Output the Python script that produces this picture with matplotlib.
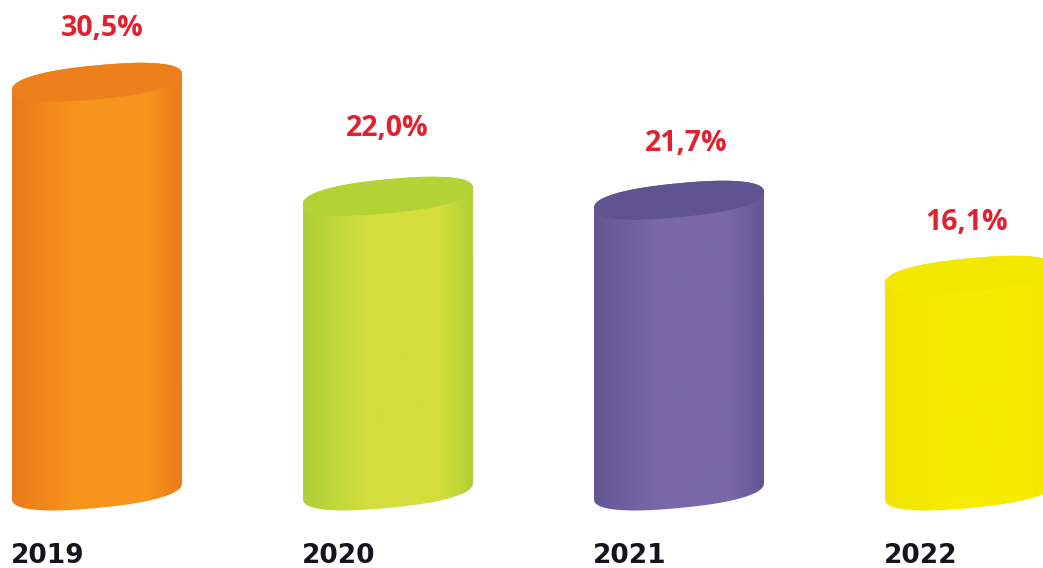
import numpy as np
import matplotlib
matplotlib.use("Agg")
import matplotlib.pyplot as plt
from matplotlib.colors import LinearSegmentedColormap
from matplotlib.patches import PathPatch
from matplotlib.path import Path

# data
years = ["2019", "2020", "2021", "2022"]
values = [30.5, 22.0, 21.7, 16.1]
value_labels = ["30,5%", "22,0%", "21,7%", "16,1%"]

# colours: edge of the body, middle of the body, top cap
edge_cols = ["#ea7b1a", "#add036", "#625697", "#f2e400"]
mid_cols = ["#f8941d", "#d4de3e", "#7a68a9", "#f7ec00"]
cap_cols = ["#ee801c", "#b2d235", "#5f5392", "#f3e800"]

# label nudges in pixels, the labels are not evenly placed
label_dx = [5, -1, 7, -3]
label_dy = [54, 68, 57, 53]

W, H = 1043, 568
PX_X = 291.0      # pixels per category
PX_Y = 13.4       # pixels per percent
X0, Y0 = 97, 491  # pixel of first bar centre / of value 0

fig = plt.figure(figsize=(W / 100, H / 100), dpi=100)
ax = fig.add_axes([0, 0, 1, 1])
ax.set_xlim(-X0 / PX_X, (W - X0) / PX_X)
ax.set_ylim(-(H - Y0) / PX_Y, Y0 / PX_Y)
ax.axis("off")

hw = 85 / PX_X
b = 17 / PX_Y
tilt = 8 / PX_Y   # right side sits higher than the left
t = np.linspace(0, 2 * np.pi, 181)


def rim(i, v, tt):
    # slightly boxy ellipse, the reference rims are fuller than a true ellipse
    c = np.sign(np.cos(tt)) * np.abs(np.cos(tt)) ** 0.85
    s = np.sign(np.sin(tt)) * np.abs(np.sin(tt)) ** 0.85
    return i + hw * c, v + b * s + tilt * c


for i, v in enumerate(values):
    # body: bottom half rim plus the top rim
    tb = np.linspace(np.pi, 2 * np.pi, 90)
    tt = np.linspace(0, np.pi, 90)
    xb, yb = rim(i, 0, tb)
    xt, yt = rim(i, v, tt)
    verts = np.r_[np.c_[xb, yb], np.c_[xt, yt], [[xb[0], yb[0]]]]
    body = PathPatch(Path(verts), fc="none", ec="none", transform=ax.transData)
    ax.add_patch(body)

    cmap = LinearSegmentedColormap.from_list(
        "c%d" % i,
        [(0, edge_cols[i]), (0.38, mid_cols[i]), (0.8, mid_cols[i]), (1, edge_cols[i])],
    )
    im = ax.imshow(
        np.linspace(0, 1, 256)[None, :],
        cmap=cmap,
        aspect="auto",
        extent=[i - hw, i + hw, -3, v + 3],
        zorder=2,
    )
    im.set_clip_path(body)

    xc, yc = rim(i, v, t)
    ax.fill(xc, yc, color=cap_cols[i], lw=0, zorder=3)

    ax.annotate(
        value_labels[i],
        (i, v),
        xytext=(label_dx[i] * 0.72, label_dy[i] * 0.72),
        textcoords="offset points",
        ha="center",
        va="center",
        color="#e0212f",
        fontsize=20.5,
        fontweight="bold",
        family="Open Sans",
        zorder=4,
    )
    ax.annotate(
        years[i],
        (i - hw, 0),
        xytext=(-1, -65 * 0.72),
        textcoords="offset points",
        ha="left",
        va="center",
        color="#14141c",
        fontsize=19,
        fontweight="bold",
        family="DejaVu Sans",
        zorder=4,
    )

ax.set_xlim(-X0 / PX_X, (W - X0) / PX_X)
ax.set_ylim(-(H - Y0) / PX_Y, Y0 / PX_Y)
fig.savefig("out.png", dpi=100)
